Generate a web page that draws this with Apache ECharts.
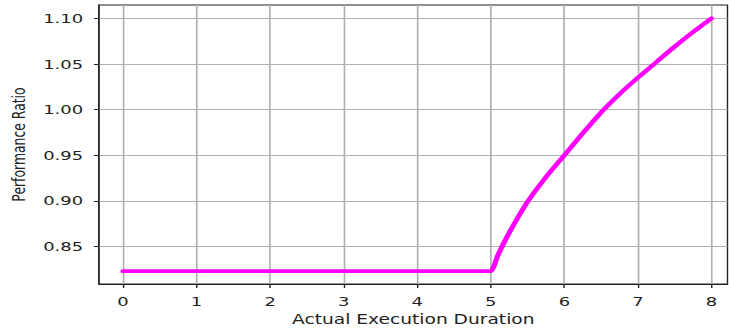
<!DOCTYPE html>
<html>
<head>
<meta charset="utf-8">
<script src="https://cdn.jsdelivr.net/npm/echarts@6/dist/echarts.min.js"></script>
<style>
  html, body { margin: 0; padding: 0; background: #ffffff; overflow: hidden; }
  /* the figure is drawn at a narrower width and stretched horizontally */
  #chart { width: 528px; height: 329px; transform: scaleX(1.3807); transform-origin: 0 0; }
</style>
</head>
<body>
<div id="chart"></div>
<script>
// Execution duration (x) and measured performance ratio (y)
const durations = [0, 4.9, 5, 5.1, 5.25, 5.5, 5.75, 6, 6.25, 6.5, 6.75, 7, 7.25, 7.5, 7.75, 8];
const ratios = [0.823, 0.823, 0.823, 0.841, 0.865, 0.899, 0.926, 0.950, 0.974, 0.997, 1.017, 1.035, 1.052, 1.069, 1.085, 1.100];

// Axis ticks
const xTicks = [0, 1, 2, 3, 4, 5, 6, 7, 8];
const yTicks = [0.85, 0.90, 0.95, 1.00, 1.05, 1.10];

const xTitle = 'Actual Execution Duration';
const yTitle = 'Performance Ratio';

const textColor = '#222222';
const gridColor = '#b0b0b0';

const chart = echarts.init(document.getElementById('chart'), null, { renderer: 'svg' });

chart.setOption({
  animation: false,
  backgroundColor: '#ffffff',
  grid: {
    left: 71.7,
    right: 1.1,
    top: 5,
    bottom: 45,
    show: true,
    borderColor: '#222222',
    borderWidth: 1,
    backgroundColor: 'transparent',
    outerBoundsMode: 'none'
  },
  xAxis: {
    type: 'value',
    min: -0.3265,
    max: 8.218,
    name: xTitle,
    nameLocation: 'middle',
    nameGap: 28,
    nameTextStyle: { fontFamily: 'DejaVu Sans', fontSize: 13.5, color: textColor },
    axisLine: { show: true, onZero: false, lineStyle: { color: '#222222', width: 1 } },
    axisTick: { show: true, length: 4, customValues: xTicks, lineStyle: { color: '#222222' } },
    axisLabel: {
      customValues: xTicks,
      margin: 11,
      fontFamily: 'DejaVu Sans',
      fontSize: 13,
      color: textColor,
      formatter: v => String(v)
    },
    splitLine: { show: true, lineStyle: { color: gridColor, width: 1.2 } }
  },
  yAxis: {
    type: 'value',
    min: 0.8089,
    max: 1.1146,
    name: yTitle,
    nameLocation: 'middle',
    nameGap: 52,
    nameRotate: 90,
    nameTextStyle: { fontFamily: 'DejaVu Sans', fontSize: 12.4, color: textColor },
    axisLine: { show: true, onZero: false, lineStyle: { color: '#222222', width: 1 } },
    axisTick: { show: true, length: 3.6, customValues: yTicks, lineStyle: { color: '#222222' } },
    axisLabel: {
      customValues: yTicks,
      margin: 11.5,
      fontFamily: 'DejaVu Sans',
      fontSize: 13,
      color: textColor,
      formatter: v => v.toFixed(2)
    },
    splitLine: { show: true, lineStyle: { color: gridColor, width: 1.2 } }
  },
  series: [{
    type: 'line',
    data: durations.map((d, i) => [d, ratios[i]]),
    showSymbol: false,
    smooth: 0.2,
    lineStyle: { color: '#ff00ff', width: 3.8, cap: 'round', join: 'round' },
    itemStyle: { color: '#ff00ff' }
  }]
});
</script>
</body>
</html>
